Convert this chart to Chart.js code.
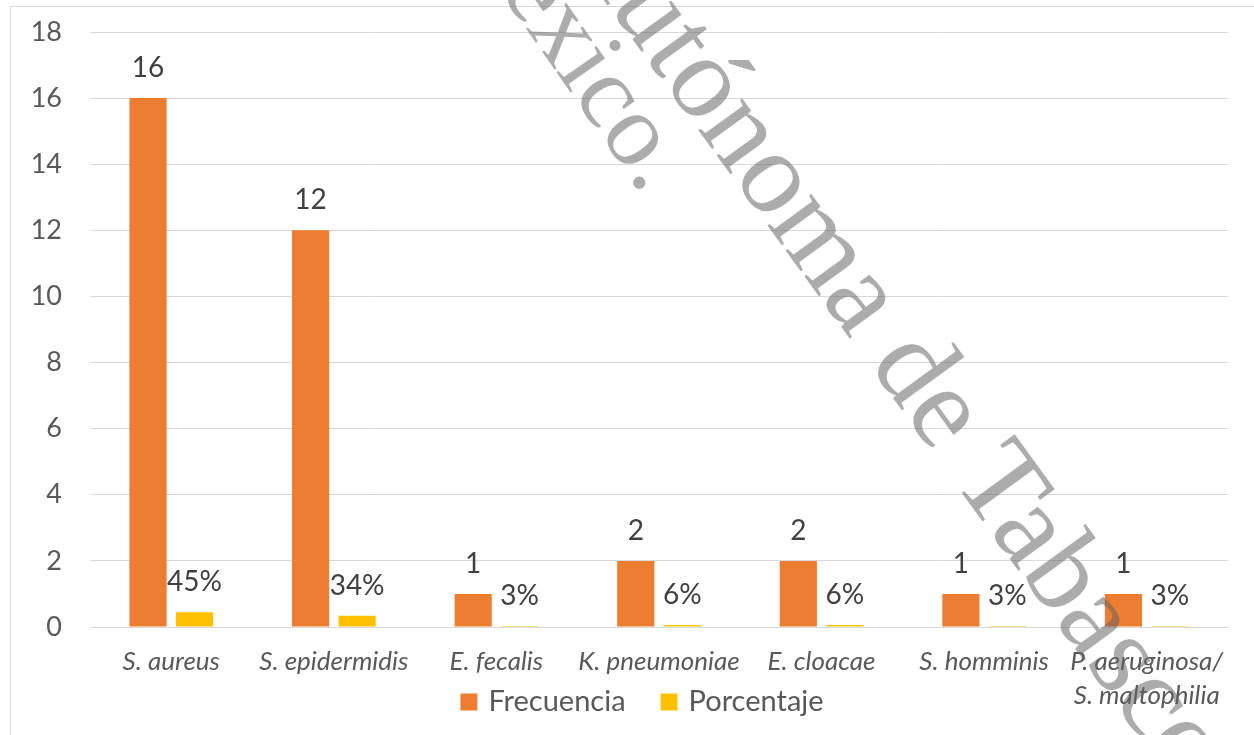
<!DOCTYPE html>
<html>
<head>
<meta charset="utf-8">
<script src="https://cdn.jsdelivr.net/npm/chart.js@4.4.1/dist/chart.umd.min.js"></script>
<style>
  html, body { margin: 0; padding: 0; background: #fff; }
  #wrap { position: relative; width: 1254px; height: 735px; overflow: hidden; }
  #frame { position: absolute; left: 10px; top: 6px; width: 1300px; height: 800px; border: 1px solid #d9d9d9; box-sizing: border-box; }
  #c { position: absolute; left: 0; top: 0; }
</style>
</head>
<body>
<div id="wrap">
  <div id="frame"></div>
  <canvas id="c" width="1254" height="735"></canvas>
</div>
<script>
'use strict';

const categories = ['S. aureus', 'S. epidermidis', 'E. fecalis', 'K. pneumoniae', 'E. cloacae', 'S. homminis', ['P. aeruginosa/', 'S. maltophilia']];
const frecuencia = [16, 12, 1, 2, 2, 1, 1];
const porcentaje = [0.45, 0.34, 0.03, 0.06, 0.06, 0.03, 0.03];
const yTicks = [0, 2, 4, 6, 8, 10, 12, 14, 16, 18];

const FONT = 'Lato, "Open Sans", sans-serif';
const TEXT_DARK = '#404040';
const TEXT_AXIS = '#595959';

// value labels above each bar
const barLabels = {
    id: 'barLabels',
    afterDatasetsDraw(chart) {
        const ctx = chart.ctx;
        ctx.save();
        ctx.font = '28px ' + FONT;
        ctx.fillStyle = TEXT_DARK;
        ctx.textAlign = 'center';
        ctx.textBaseline = 'middle';
        chart.data.datasets.forEach((ds, i) => {
            chart.getDatasetMeta(i).data.forEach((bar, j) => {
                const v = ds.data[j];
                const txt = i === 0 ? String(v) : Math.round(v * 100) + '%';
                ctx.fillText(txt, bar.x, bar.y - 30);
            });
        });
        ctx.restore();
    }
};

// legend drawn by hand so it can sit beside the two-line category label
const bottomLegend = {
    id: 'bottomLegend',
    afterDraw(chart) {
        const ctx = chart.ctx;
        const box = 17, gapText = 11, gapItem = 35;
        ctx.save();
        ctx.font = '29px ' + FONT;
        ctx.textBaseline = 'middle';
        ctx.textAlign = 'left';
        const items = chart.data.datasets.map(ds => ({ text: ds.label, color: ds.backgroundColor, w: ctx.measureText(ds.label).width }));
        const total = items.reduce((s, it) => s + box + gapText + it.w, 0) + gapItem * (items.length - 1);
        let x = chart.width / 2 + 15 - total / 2;
        const y = 702;
        items.forEach(it => {
            ctx.fillStyle = it.color;
            ctx.fillRect(x, y - box / 2, box, box);
            x += box + gapText;
            ctx.fillStyle = TEXT_AXIS;
            ctx.fillText(it.text, x, y);
            x += it.w + gapItem;
        });
        ctx.restore();
    }
};

// diagonal watermark laid over the chart
const watermark = {
    id: 'watermark',
    afterDraw(chart) {
        const ctx = chart.ctx;
        ctx.save();
        ctx.fillStyle = 'rgba(95,95,95,0.52)';
        ctx.textBaseline = 'alphabetic';

        ctx.save();
        ctx.font = '118px "Liberation Serif", "DejaVu Serif", serif';
        ctx.translate(951, 478);
        ctx.rotate(54 * Math.PI / 180);
        ctx.textAlign = 'right';
        ctx.fillText('Universidad Juárez Autónoma de ', 0, 0);
        ctx.textAlign = 'left';
        ctx.fillText('Tabasco.', 0, 0);
        ctx.restore();

        ctx.save();
        ctx.font = '104px "Liberation Serif", "DejaVu Serif", serif';
        ctx.translate(643, 196);
        ctx.rotate(55 * Math.PI / 180);
        ctx.textAlign = 'right';
        ctx.fillText('México.', 0, 0);
        ctx.restore();

        ctx.restore();
    }
};

new Chart(document.getElementById('c'), {
    type: 'bar',
    data: {
        labels: categories,
        datasets: [
            {
                label: 'Frecuencia',
                data: frecuencia,
                backgroundColor: '#ED7D31',
                categoryPercentage: 0.572,
                barPercentage: 0.8
            },
            {
                label: 'Porcentaje',
                data: porcentaje,
                backgroundColor: '#FFC000',
                categoryPercentage: 0.572,
                barPercentage: 0.8
            }
        ]
    },
    options: {
        responsive: false,
        animation: false,
        layout: { padding: { left: 10, right: 26, top: 32, bottom: 18 } },
        plugins: {
            legend: { display: false },
            tooltip: { enabled: false }
        },
        scales: {
            x: {
                grid: { display: false, drawTicks: false },
                border: { color: '#d9d9d9', width: 1 },
                ticks: {
                    font: { size: 26, family: FONT, style: 'italic', lineHeight: 1.3 },
                    color: TEXT_AXIS,
                    padding: 18,
                    maxRotation: 0,
                    autoSkip: false
                },
                afterFit(scale) { scale.height = 90; scale.paddingLeft = 0; scale.paddingRight = 0; }
            },
            y: {
                min: 0,
                max: 18,
                afterBuildTicks(scale) { scale.ticks = yTicks.map(v => ({ value: v })); },
                grid: { color: '#d9d9d9', lineWidth: 1, drawTicks: false },
                border: { display: false },
                ticks: {
                    font: { size: 27, family: FONT },
                    color: TEXT_AXIS,
                    padding: 28
                },
                afterFit(scale) { scale.width = 80; scale.paddingTop = 0; scale.paddingBottom = 0; }
            }
        }
    },
    plugins: [barLabels, bottomLegend, watermark]
});
</script>
</body>
</html>
